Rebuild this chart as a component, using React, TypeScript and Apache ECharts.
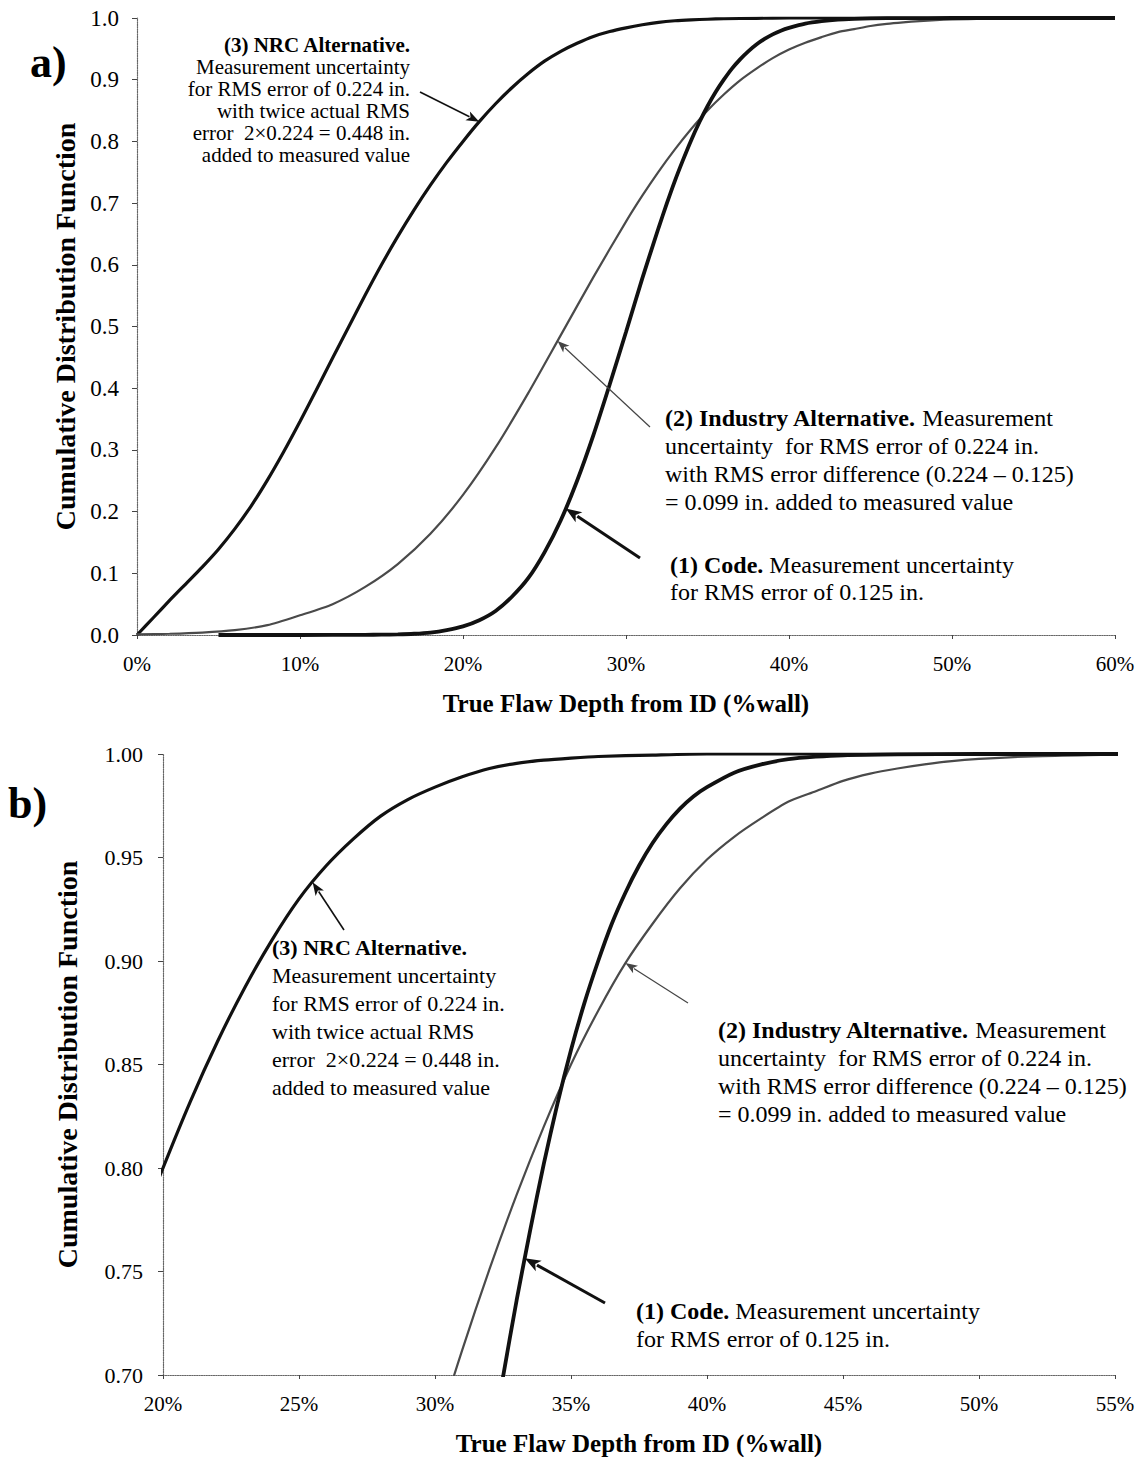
import React, { useEffect, useRef } from "react";
import * as echarts from "echarts";

// ---- Data (x in % wall, y = CDF) ----
const nrcX = [0, 1, 2, 3, 4, 5, 6, 7, 8, 9, 10, 11, 12, 13, 14, 15, 16, 17, 18, 19, 20, 21, 22, 23, 24, 25, 26, 27, 28, 29, 30, 31, 32, 33, 34, 35, 36, 38, 40, 45, 50, 55, 60];
const nrcY = [0, 0.028, 0.056, 0.083, 0.11, 0.139, 0.172, 0.209, 0.251, 0.297, 0.346, 0.397, 0.449, 0.5, 0.551, 0.6, 0.646, 0.689, 0.729, 0.766, 0.8, 0.832, 0.861, 0.887, 0.91, 0.93, 0.946, 0.959, 0.97, 0.978, 0.984, 0.989, 0.993, 0.9955, 0.997, 0.998, 0.9988, 0.9995, 1, 1, 1, 1, 1];

const codeX = [5, 10, 14, 15, 16, 17, 18, 19, 20, 21, 22, 23, 24, 25, 26, 27, 28, 29, 30, 31, 32, 32.5, 33, 33.5, 34, 34.5, 35, 35.5, 36, 36.5, 37, 37.5, 38, 38.5, 39, 39.5, 40, 41, 42, 43, 44, 45, 47, 50, 55, 60];
const codeY = [0, 0, 0.0003, 0.0005, 0.001, 0.002, 0.004, 0.008, 0.014, 0.024, 0.039, 0.062, 0.092, 0.134, 0.186, 0.25, 0.324, 0.406, 0.491, 0.578, 0.66, 0.699, 0.736, 0.77, 0.802, 0.831, 0.857, 0.88, 0.9, 0.918, 0.933, 0.946, 0.957, 0.966, 0.9735, 0.9795, 0.984, 0.991, 0.995, 0.9975, 0.9987, 0.9994, 0.9998, 1, 1, 1];

const indX = [0, 2, 4, 6, 8, 10, 12, 14, 16, 18, 20, 22, 24, 26, 28, 30, 31, 32, 33, 34, 35, 36, 37, 38, 39, 40, 41, 42, 43, 44, 45, 46, 47, 48, 49, 50, 52, 54, 56, 60];
const indY = [0.001, 0.002, 0.004, 0.008, 0.016, 0.032, 0.05, 0.078, 0.115, 0.164, 0.227, 0.304, 0.392, 0.486, 0.58, 0.67, 0.712, 0.751, 0.787, 0.82, 0.85, 0.876, 0.899, 0.918, 0.935, 0.949, 0.96, 0.969, 0.977, 0.982, 0.987, 0.9905, 0.993, 0.995, 0.9966, 0.9976, 0.9989, 0.9995, 0.9998, 1];

const FONT = '"Liberation Serif", "Times New Roman", serif';
const TITLE_X = "True Flaw Depth from ID (%wall)";
const TITLE_Y = "Cumulative Distribution Function";

const zip = (xs: number[], ys: number[]) => xs.map((x, i) => [x, ys[i]]);
const interp = (xs: number[], ys: number[], x: number) => {
  for (let i = 1; i < xs.length; i++) {
    if (x <= xs[i]) {
      const t = (x - xs[i - 1]) / (xs[i] - xs[i - 1]);
      return ys[i - 1] + t * (ys[i] - ys[i - 1]);
    }
  }
  return ys[ys.length - 1];
};

const curveSeries = (grid: number) => [
  {
    name: "(3) NRC Alternative",
    type: "line",
    xAxisIndex: grid,
    yAxisIndex: grid,
    data: zip(nrcX, nrcY),
    showSymbol: false,
    smooth: 0.25,
    lineStyle: { color: "#111", width: 3.2 },
    clip: true,
  },
  {
    name: "(2) Industry Alternative",
    type: "line",
    xAxisIndex: grid,
    yAxisIndex: grid,
    data: zip(indX, indY),
    showSymbol: false,
    smooth: 0.25,
    lineStyle: { color: "#4a4a4a", width: 2.2 },
    clip: true,
  },
  {
    name: "(1) Code",
    type: "line",
    xAxisIndex: grid,
    yAxisIndex: grid,
    data: zip(codeX, codeY),
    showSymbol: false,
    smooth: 0.25,
    lineStyle: { color: "#111", width: 3.8 },
    clip: true,
  },
];

const axisLineStyle = { color: "#666", type: "dotted" as const, width: 1.2 };

function arrow(tail: number[], tip: number[], width: number, color: string, head: number) {
  const dx = tip[0] - tail[0];
  const dy = tip[1] - tail[1];
  const len = Math.sqrt(dx * dx + dy * dy);
  const ux = dx / len;
  const uy = dy / len;
  const bx = tip[0] - ux * head;
  const by = tip[1] - uy * head;
  const hw = head * 0.38;
  return [
    {
      type: "line",
      shape: { x1: tail[0], y1: tail[1], x2: bx + ux * 2, y2: by + uy * 2 },
      style: { stroke: color, lineWidth: width },
      z: 100,
    },
    {
      type: "polygon",
      shape: {
        points: [
          [tip[0], tip[1]],
          [bx - uy * hw, by + ux * hw],
          [bx + ux * head * 0.25, by + uy * head * 0.25],
          [bx + uy * hw, by - ux * hw],
        ],
      },
      style: { fill: color },
      z: 100,
    },
  ];
}

function textLines(lines: string[], x: number, y0: number, step: number, size: number, align: string) {
  return lines.map((t, i) => ({
    type: "text",
    x,
    y: y0 + i * step,
    z: 100,
    style: {
      text: t,
      font: `${size}px ${FONT}`,
      fill: "#000",
      align,
      verticalAlign: "middle",
      rich: { b: { fontWeight: "bold", fontSize: size, fontFamily: FONT, fill: "#000" } },
    },
  }));
}

export default function App() {
  const ref = useRef<HTMLDivElement>(null);
  useEffect(() => {
    if (!ref.current) return;
    const chart = echarts.init(ref.current, undefined, { renderer: "svg" });
    const xLabel = (size: number) => ({
      formatter: "{value}%",
      fontSize: size,
      color: "#000",
      fontFamily: FONT,
      margin: 18,
    });
    const option: any = {
      animation: false,
      backgroundColor: "#fff",
      grid: [
        { left: 137, top: 18, width: 978, height: 617 },
        { left: 163, top: 754, width: 952, height: 621 },
      ],
      xAxis: [
        {
          gridIndex: 0,
          type: "value",
          min: 0,
          max: 60,
          interval: 10,
          axisLabel: xLabel(21),
          axisLine: { show: true, onZero: false, lineStyle: axisLineStyle },
          axisTick: { show: true, length: 4, lineStyle: { color: "#444" } },
          splitLine: { show: false },
          name: TITLE_X,
          nameLocation: "middle",
          nameGap: 56,
          nameTextStyle: { fontSize: 25, fontWeight: "bold", fontFamily: FONT, color: "#000" },
        },
        {
          gridIndex: 1,
          type: "value",
          min: 20,
          max: 55,
          interval: 5,
          axisLabel: xLabel(21),
          axisLine: { show: true, onZero: false, lineStyle: axisLineStyle },
          axisTick: { show: true, length: 4, lineStyle: { color: "#444" } },
          splitLine: { show: false },
          name: TITLE_X,
          nameLocation: "middle",
          nameGap: 56,
          nameTextStyle: { fontSize: 25, fontWeight: "bold", fontFamily: FONT, color: "#000" },
        },
      ],
      yAxis: [
        {
          gridIndex: 0,
          type: "value",
          min: 0,
          max: 1,
          interval: 0.1,
          axisLabel: {
            formatter: (v: number) => v.toFixed(1),
            fontSize: 23,
            color: "#000",
            fontFamily: FONT,
            margin: 18,
          },
          axisLine: { show: true, lineStyle: axisLineStyle },
          axisTick: { show: true, length: 5, lineStyle: { color: "#444" } },
          splitLine: { show: false },
          name: TITLE_Y,
          nameLocation: "middle",
          nameGap: 58,
          nameTextStyle: { fontSize: 28, fontWeight: "bold", fontFamily: FONT, color: "#000" },
        },
        {
          gridIndex: 1,
          type: "value",
          min: 0.7,
          max: 1,
          interval: 0.05,
          axisLabel: {
            formatter: (v: number) => v.toFixed(2),
            fontSize: 22,
            color: "#000",
            fontFamily: FONT,
            margin: 20,
          },
          axisLine: { show: true, lineStyle: axisLineStyle },
          axisTick: { show: true, length: 5, lineStyle: { color: "#444" } },
          splitLine: { show: false },
          name: TITLE_Y,
          nameLocation: "middle",
          nameGap: 82,
          nameTextStyle: { fontSize: 28, fontWeight: "bold", fontFamily: FONT, color: "#000" },
        },
      ],
      series: [...curveSeries(0), ...curveSeries(1)],
    };
    chart.setOption(option);

    const px = (g: number, x: number, y: number) =>
      chart.convertToPixel({ gridIndex: g } as any, [x, y]) as number[];

    const tipA3 = px(0, 21, interp(nrcX, nrcY, 21));
    const tipA2 = px(0, 25.8, interp(indX, indY, 25.8));
    const tipA1 = px(0, 26.3, interp(codeX, codeY, 26.3));
    const tipB3 = px(1, 25.5, interp(nrcX, nrcY, 25.5));
    const tipB2 = px(1, 37, interp(indX, indY, 37));
    const tipB1 = px(1, 33.3, interp(codeX, codeY, 33.3));

    const nrcLines = [
      "{b|(3) NRC Alternative.}",
      "Measurement uncertainty",
      "for RMS error of 0.224 in.",
      "with twice actual RMS",
      "error  2×0.224 = 0.448 in.",
      "added to measured value",
    ];
    const indLines = [
      "{b|(2) Industry Alternative.} Measurement",
      "uncertainty  for RMS error of 0.224 in.",
      "with RMS error difference (0.224 – 0.125)",
      "= 0.099 in. added to measured value",
    ];
    const codeLines = ["{b|(1) Code.} Measurement uncertainty", "for RMS error of 0.125 in."];

    const graphic: any[] = [
      {
        type: "text",
        x: 30,
        y: 62,
        style: { text: "a)", font: `bold 44px ${FONT}`, fill: "#000", verticalAlign: "middle" },
      },
      {
        type: "text",
        x: 8,
        y: 803,
        style: { text: "b)", font: `bold 44px ${FONT}`, fill: "#000", verticalAlign: "middle" },
      },
      ...textLines(nrcLines, 410, 45, 22, 21, "right"),
      ...textLines(indLines, 665, 418, 28, 24, "left"),
      ...textLines(codeLines, 670, 565, 27, 24, "left"),
      ...textLines(nrcLines, 272, 947, 28, 22, "left"),
      ...textLines(indLines, 718, 1030, 28, 24, "left"),
      ...textLines(codeLines, 636, 1311, 28, 24, "left"),
      ...arrow([420, 92], tipA3, 1.6, "#111", 13),
      ...arrow([650, 427], tipA2, 1.2, "#444", 12),
      ...arrow([640, 558], tipA1, 3, "#111", 16),
      ...arrow([344, 930], tipB3, 1.6, "#111", 13),
      ...arrow([688, 1003], tipB2, 1.2, "#444", 12),
      ...arrow([605, 1303], tipB1, 3, "#111", 16),
    ];
    chart.setOption({ graphic });

    return () => chart.dispose();
  }, []);
  return (
    <div
      ref={ref}
      style={{ position: "absolute", left: 0, top: 0, width: 1142, height: 1457, background: "#fff" }}
    />
  );
}
